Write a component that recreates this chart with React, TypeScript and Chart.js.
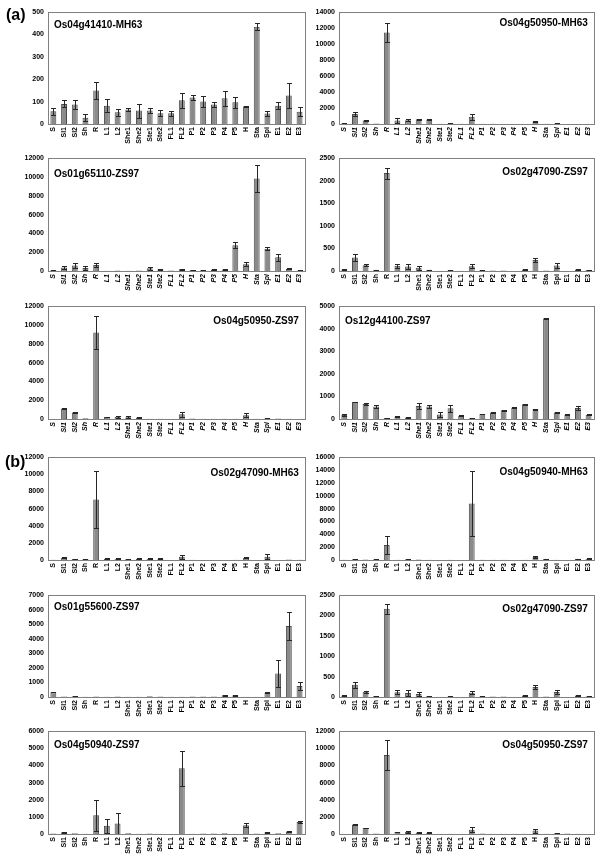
import React, { useEffect, useRef } from "react";
import { Chart, registerables } from "chart.js";

Chart.register(...registerables);

const categories = ["S", "Sl1", "Sl2", "Sh", "R", "L1", "L2", "She1", "She2", "Ste1", "Ste2", "FL1", "FL2", "P1", "P2", "P3", "P4", "P5", "H", "Sta", "Spi", "E1", "E2", "E3"];

// (a) Os04g41410-MH63
const os04g41410MH63 = [57, 90, 87, 28, 150, 82, 53, 65, 60, 60, 48, 48, 106, 118, 101, 87, 115, 97, 79, 435, 47, 82, 128, 55];
const os04g41410MH63Err = [16, 16, 19, 15, 40, 28, 16, 8, 31, 13, 14, 11, 34, 11, 25, 11, 33, 25, 3, 15, 10, 16, 56, 20];

// (a) Os04g50950-MH63
const os04g50950MH63 = [100, 1240, 450, 50, 11450, 450, 480, 600, 560, 20, 80, 20, 900, 40, 30, 40, 10, 10, 300, 20, 70, 10, 10, 10];
const os04g50950MH63Err = [40, 280, 60, 0, 1200, 350, 100, 80, 80, 0, 20, 0, 380, 0, 0, 0, 0, 0, 60, 0, 20, 0, 0, 0];

// (a) Os01g65110-ZS97
const os01g65110ZS97 = [80, 380, 590, 330, 650, 30, 40, 20, 40, 300, 180, 40, 180, 100, 100, 150, 150, 2750, 730, 9840, 2370, 1460, 220, 50];
const os01g65110ZS97Err = [20, 200, 280, 250, 200, 0, 0, 0, 0, 150, 30, 0, 50, 20, 20, 30, 30, 300, 200, 1460, 170, 350, 50, 10];

// Os02g47090-ZS97 (shown in (a) and (b))
const os02g47090ZS97 = [36, 300, 129, 25, 2170, 114, 100, 71, 25, 8, 20, 3, 107, 20, 10, 10, 2, 35, 243, 12, 121, 2, 35, 20];
const os02g47090ZS97Err = [10, 80, 25, 5, 120, 50, 65, 45, 5, 0, 5, 0, 45, 5, 0, 0, 0, 8, 40, 0, 55, 0, 20, 5];

// Os04g50950-ZS97 (shown in (a) and (b))
const os04g50950ZS97 = [0, 1110, 690, 70, 9210, 220, 240, 180, 160, 35, 25, 0, 500, 45, 30, 30, 15, 25, 400, 20, 90, 60, 15, 10];
const os04g50950ZS97Err = [0, 30, 40, 0, 1750, 30, 90, 110, 40, 0, 0, 0, 270, 0, 0, 0, 0, 0, 240, 0, 20, 0, 0, 0];

// (a) Os12g44100-ZS97
const os12g44100ZS97 = [174, 753, 667, 555, 43, 116, 72, 580, 551, 203, 478, 145, 30, 217, 290, 391, 507, 652, 435, 4464, 290, 188, 493, 188];
const os12g44100ZS97Err = [30, 20, 30, 80, 10, 30, 15, 120, 60, 120, 150, 15, 5, 10, 15, 20, 15, 35, 15, 30, 20, 15, 80, 15];

// (b) Os02g47090-MH63
const os02g47090MH63 = [20, 267, 115, 115, 7050, 150, 150, 120, 150, 150, 150, 0, 382, 30, 5, 5, 5, 40, 267, 5, 382, 5, 50, 20];
const os02g47090MH63Err = [0, 80, 30, 20, 3300, 40, 30, 20, 30, 30, 30, 0, 250, 0, 0, 0, 0, 0, 50, 0, 300, 0, 0, 0];

// (b) Os04g50940-MH63
const os04g50940MH63 = [30, 120, 60, 120, 2340, 40, 120, 60, 50, 5, 40, 5, 8790, 30, 40, 40, 5, 40, 457, 200, 50, 5, 180, 200];
const os04g50940MH63Err = [0, 20, 0, 20, 1350, 0, 20, 0, 0, 0, 0, 0, 5000, 0, 0, 0, 0, 0, 100, 30, 0, 0, 50, 40];

// (b) Os01g55600-ZS97
const os01g55600ZS97 = [335, 40, 60, 10, 30, 10, 30, 10, 10, 50, 30, 10, 10, 30, 30, 30, 112, 112, 20, 20, 290, 1610, 4880, 750];
const os01g55600ZS97Err = [20, 0, 10, 0, 0, 0, 0, 0, 0, 0, 0, 0, 0, 0, 0, 0, 20, 20, 0, 0, 40, 920, 940, 250];

// (b) Os04g50940-ZS97
const os04g50940ZS97 = [30, 100, 50, 10, 1090, 478, 611, 40, 20, 30, 20, 0, 3840, 10, 30, 30, 40, 20, 516, 30, 100, 40, 150, 700];
const os04g50940ZS97Err = [0, 20, 0, 0, 920, 400, 600, 0, 0, 0, 0, 0, 1030, 0, 0, 0, 0, 0, 130, 0, 30, 0, 20, 30];

const titles = [
  "Os04g41410-MH63", "Os04g50950-MH63",
  "Os01g65110-ZS97", "Os02g47090-ZS97",
  "Os04g50950-ZS97", "Os12g44100-ZS97",
  "Os02g47090-MH63", "Os04g50940-MH63",
  "Os01g55600-ZS97", "Os02g47090-ZS97",
  "Os04g50940-ZS97", "Os04g50950-ZS97",
];
const yMax = [500, 14000, 12000, 2500, 12000, 5000, 12000, 16000, 7000, 2500, 6000, 12000];
const yStep = [100, 2000, 2000, 500, 2000, 1000, 2000, 2000, 1000, 500, 1000, 2000];
const seriesValues = [os04g41410MH63, os04g50950MH63, os01g65110ZS97, os02g47090ZS97, os04g50950ZS97, os12g44100ZS97, os02g47090MH63, os04g50940MH63, os01g55600ZS97, os02g47090ZS97, os04g50940ZS97, os04g50950ZS97];
const seriesErrors = [os04g41410MH63Err, os04g50950MH63Err, os01g65110ZS97Err, os02g47090ZS97Err, os04g50950ZS97Err, os12g44100ZS97Err, os02g47090MH63Err, os04g50940MH63Err, os01g55600ZS97Err, os02g47090ZS97Err, os04g50940ZS97Err, os04g50950ZS97Err];

// layout (positions only)
const titleAlign = ["left", "right", "left", "right", "right", "left", "right", "right", "left", "right", "left", "right"];
const titleDy = [13, 11, 16, 14, 15, 15, 16, 15, 12, 14, 14, 14];
const italicLabels = [false, true, true, false, true, true, false, false, false, false, false, false];
const rowTops = [10, 156, 304, 455, 593, 729];
const rowZeros = [124, 271, 419, 560, 697, 834];

const FONT = '"Liberation Sans", Arial, Helvetica, sans-serif';
const PAD_TOP = 6;
const X_H = 26;

function Panel({ idx }: { idx: number }) {
  const ref = useRef<HTMLCanvasElement | null>(null);
  const col = idx % 2;
  const row = Math.floor(idx / 2);
  const left = col === 0 ? 0 : 300;
  const width = col === 0 ? 311 : 300;
  const yw = col === 0 ? 48 : 39;
  const top = rowTops[row] - PAD_TOP;
  const height = PAD_TOP + (rowZeros[row] - rowTops[row]) + X_H;

  useEffect(() => {
    const canvas = ref.current;
    if (!canvas) return;
    const values = seriesValues[idx];
    const errors = seriesErrors[idx];
    const decor = {
      id: "decor" + idx,
      afterDatasetsDraw(chart: any) {
        const { ctx, chartArea: a } = chart;
        const y = chart.scales.y;
        const meta = chart.getDatasetMeta(0);
        ctx.save();
        ctx.strokeStyle = "#262626";
        ctx.lineWidth = 1;
        errors.forEach((e: number, i: number) => {
          if (!e) return;
          const v = values[i];
          const x = Math.round(meta.data[i].x) + 0.5;
          const yt = Math.round(y.getPixelForValue(Math.min(v + e, yMax[idx]))) + 0.5;
          const yb = Math.round(y.getPixelForValue(Math.max(v - e, 0))) + 0.5;
          ctx.beginPath();
          ctx.moveTo(x, yt);
          ctx.lineTo(x, yb);
          ctx.moveTo(x - 2.5, yt);
          ctx.lineTo(x + 2.5, yt);
          ctx.moveTo(x - 2.5, yb);
          ctx.lineTo(x + 2.5, yb);
          ctx.stroke();
        });
        ctx.strokeStyle = "#808080";
        ctx.strokeRect(Math.round(a.left) + 0.5, Math.round(a.top) + 0.5, Math.round(a.right - a.left), Math.round(a.bottom - a.top));
        ctx.font = "bold 10px " + FONT;
        ctx.fillStyle = "#000";
        ctx.textBaseline = "middle";
        if (titleAlign[idx] === "left") {
          ctx.textAlign = "left";
          ctx.fillText(titles[idx], a.left + 6, a.top + titleDy[idx]);
        } else {
          ctx.textAlign = "right";
          ctx.fillText(titles[idx], a.right - 6, a.top + titleDy[idx]);
        }
        ctx.restore();
      },
    };
    const chart = new Chart(canvas, {
      type: "bar",
      data: {
        labels: categories,
        datasets: [
          {
            data: values,
            backgroundColor: "#8a8a8a",
            borderColor: "#4a4a4a",
            borderWidth: 1,
            barPercentage: 0.55,
            categoryPercentage: 1,
          },
        ],
      },
      options: {
        responsive: false,
        animation: false,
        devicePixelRatio: 1,
        layout: { padding: { top: PAD_TOP, right: 3, left: 0, bottom: 0 } },
        plugins: { legend: { display: false }, tooltip: { enabled: false }, title: { display: false } },
        scales: {
          x: {
            grid: { display: false, drawTicks: false },
            border: { display: false },
            ticks: {
              autoSkip: false,
              maxRotation: 90,
              minRotation: 90,
              padding: 3,
              color: "#000",
              font: { family: FONT, size: 7, weight: "bold", style: italicLabels[idx] ? "italic" : "normal" },
            },
            afterFit: (s: any) => {
              s.height = X_H;
            },
          },
          y: {
            min: 0,
            max: yMax[idx],
            grid: { display: false, drawTicks: false },
            border: { display: false },
            ticks: {
              stepSize: yStep[idx],
              autoSkip: false,
              padding: 4,
              color: "#000",
              font: { family: FONT, size: 7, weight: "bold" },
              callback: (v: any) => String(v),
            },
            afterFit: (s: any) => {
              s.width = yw;
            },
          },
        },
      },
      plugins: [decor],
    } as any);
    return () => chart.destroy();
  }, [idx]);

  return (
    <canvas
      ref={ref}
      width={width}
      height={height}
      style={{ position: "absolute", left, top, width, height }}
    />
  );
}

export default function App() {
  return (
    <div style={{ position: "absolute", left: 0, top: 0, width: 600, height: 862, overflow: "hidden", background: "#fff", fontFamily: FONT }}>
      {titles.map((_, i) => (
        <Panel key={i} idx={i} />
      ))}
      <div style={{ position: "absolute", left: 6, top: 5, fontSize: 16, fontWeight: "bold", lineHeight: "20px" }}>(a)</div>
      <div style={{ position: "absolute", left: 5, top: 452, fontSize: 16, fontWeight: "bold", lineHeight: "20px" }}>(b)</div>
    </div>
  );
}
